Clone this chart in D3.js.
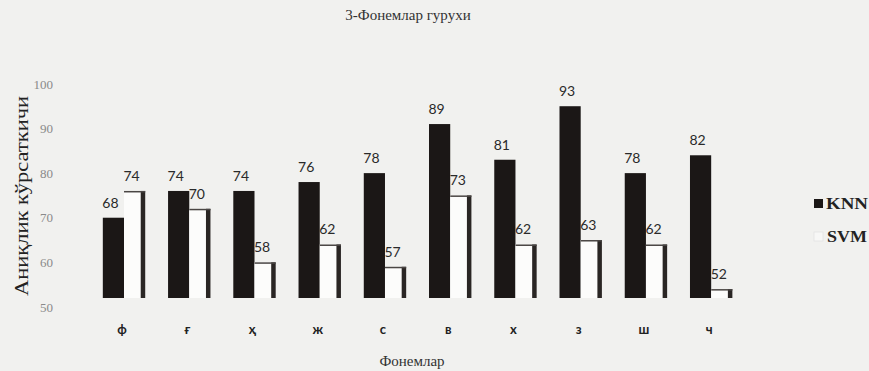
<!DOCTYPE html>
<html>
<head>
<meta charset="utf-8">
<script src="https://cdn.jsdelivr.net/npm/d3@7"></script>
<style>
  html, body { margin: 0; padding: 0; background: #f1f1ef; }
  svg { display: block; }
</style>
</head>
<body>
<svg id="chart" width="869" height="371"></svg>
<script>
// Accuracy of KNN and SVM for phoneme group 3
const phonemes = ["ф", "ғ", "ҳ", "ж", "с", "в", "х", "з", "ш", "ч"];
const knnValues = [68, 74, 74, 76, 78, 89, 81, 93, 78, 82];
const svmValues = [74, 70, 58, 62, 57, 73, 62, 63, 62, 52];
const seriesNames = ["KNN", "SVM"];
const yTicks = [50, 60, 70, 80, 90, 100];

const chartTitle = "3-Фонемлар гурухи";
const xTitle = "Фонемлар";
const yTitle = "Аниқлик кўрсаткичи";

const rows = phonemes.map((p, i) => ({ phoneme: p, KNN: knnValues[i], SVM: svmValues[i] }));

const svg = d3.select("#chart");
const serif = "'Liberation Serif', 'DejaVu Serif', serif";
const sans = "Lato, 'Open Sans', sans-serif";

const y = d3.scaleLinear().domain([50, 100]).range([298, 75]);
const x0 = d3.scaleBand().domain(phonemes).range([91.4, 743.8])
  .paddingInner(0.35).paddingOuter(0.175);
const x1 = d3.scaleBand().domain(seriesNames).range([0, x0.bandwidth()]).padding(0);

// Title
svg.append("text")
  .attr("x", 408).attr("y", 20)
  .attr("text-anchor", "middle")
  .attr("font-family", serif).attr("font-size", 15).attr("fill", "#333")
  .text(chartTitle);

// Y axis (labels only)
const yAxis = d3.axisLeft(y).tickValues(yTicks).tickSize(0).tickPadding(0);
svg.append("g")
  .attr("transform", "translate(53,9)")
  .call(yAxis)
  .call(g => g.select(".domain").remove())
  .call(g => g.selectAll("text")
    .attr("font-family", serif).attr("font-size", 13).attr("fill", "#8a8a8a"));

// X axis (labels only)
const xAxis = d3.axisBottom(x0).tickSize(0).tickPadding(0);
svg.append("g")
  .attr("transform", "translate(-2,325)")
  .call(xAxis)
  .call(g => g.select(".domain").remove())
  .call(g => g.selectAll("text")
    .attr("font-family", sans).attr("font-weight", "bold")
    .attr("font-size", 13).attr("fill", "#222"));

// Axis titles
svg.append("text")
  .attr("x", 412).attr("y", 366)
  .attr("text-anchor", "middle")
  .attr("font-family", serif).attr("font-size", 15).attr("fill", "#333")
  .text(xTitle);

svg.append("text")
  .attr("transform", "translate(28,196) rotate(-90)")
  .attr("text-anchor", "middle")
  .attr("font-family", serif).attr("font-size", 19).attr("fill", "#222")
  .attr("textLength", 200).attr("lengthAdjust", "spacingAndGlyphs")
  .text(yTitle);

// Bars
const groups = svg.append("g").selectAll("g")
  .data(rows).join("g")
  .attr("transform", d => `translate(${x0(d.phoneme)},0)`);

// KNN: solid dark bars
groups.append("rect")
  .attr("x", x1("KNN"))
  .attr("y", d => y(d.KNN))
  .attr("width", x1.bandwidth())
  .attr("height", d => y(50) - y(d.KNN))
  .attr("fill", "#1b1716");

// SVM: white bars with a dark right edge and thin top rule
groups.append("rect")
  .attr("x", x1("SVM"))
  .attr("y", d => y(d.SVM))
  .attr("width", x1.bandwidth())
  .attr("height", d => y(50) - y(d.SVM))
  .attr("fill", "#fcfcfb");
groups.append("rect")
  .attr("x", x1("SVM") + x1.bandwidth() - 4.5)
  .attr("y", d => y(d.SVM))
  .attr("width", 4.5)
  .attr("height", d => y(50) - y(d.SVM))
  .attr("fill", "#2a2624");
groups.append("rect")
  .attr("x", x1("SVM"))
  .attr("y", d => y(d.SVM))
  .attr("width", x1.bandwidth())
  .attr("height", 1.5)
  .attr("fill", "#4a4644");

// Value labels
groups.selectAll("text.val")
  .data(d => seriesNames.map(k => ({ key: k, value: d[k] })))
  .join("text")
  .attr("class", "val")
  .attr("x", d => x1(d.key) + x1.bandwidth() / 2 - 3)
  .attr("y", d => y(d.value) - 10)
  .attr("text-anchor", "middle")
  .attr("font-family", sans).attr("font-size", 14).attr("fill", "#2a2a2a")
  .text(d => d.value);

// Legend
const legend = svg.append("g").attr("transform", "translate(814,0)");
legend.append("rect").attr("x", 0).attr("y", 199).attr("width", 9).attr("height", 9).attr("fill", "#1b1716");
legend.append("text").attr("x", 12).attr("y", 209)
  .attr("font-family", serif).attr("font-size", 16).attr("font-weight", "bold").attr("fill", "#222")
  .attr("textLength", 42).attr("lengthAdjust", "spacingAndGlyphs")
  .text(seriesNames[0]);
legend.append("rect").attr("x", 0).attr("y", 232).attr("width", 9).attr("height", 9)
  .attr("fill", "#f7f7f6").attr("stroke", "#ddd").attr("stroke-width", 0.6);
legend.append("text").attr("x", 13).attr("y", 242)
  .attr("font-family", serif).attr("font-size", 16).attr("font-weight", "bold").attr("fill", "#222")
  .attr("textLength", 40).attr("lengthAdjust", "spacingAndGlyphs")
  .text(seriesNames[1]);
</script>
</body>
</html>
